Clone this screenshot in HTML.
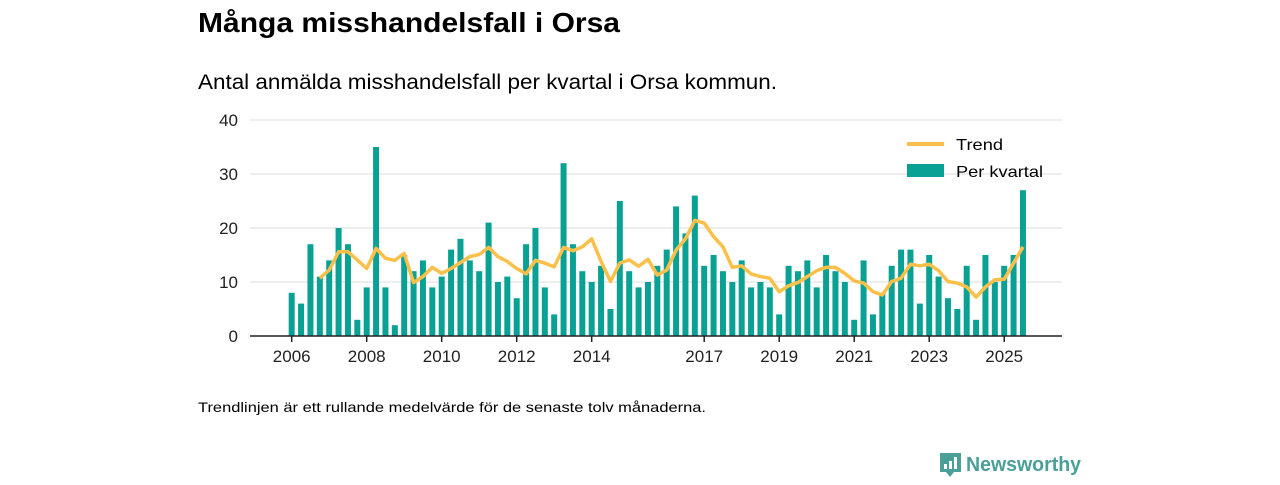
<!DOCTYPE html>
<html><head><meta charset="utf-8"><style>
body{margin:0;background:#fff;width:1280px;height:480px;overflow:hidden;font-family:"Liberation Sans",sans-serif;color:#111}
</style></head><body>
<svg width="1280" height="480">
<text x="198" y="32" font-size="28" font-weight="bold" textLength="422" lengthAdjust="spacingAndGlyphs">Många misshandelsfall i Orsa</text>
<text x="198" y="89" font-size="21" textLength="579" lengthAdjust="spacingAndGlyphs">Antal anmälda misshandelsfall per kvartal i Orsa kommun.</text>
<g id="grid"></g><g id="bars"></g><g id="trend"></g><g id="axis"></g>
<g>
<line x1="907" y1="144" x2="944" y2="144" stroke="#fbc04a" stroke-width="4"/>
<text x="956" y="150" font-size="16" textLength="47" lengthAdjust="spacingAndGlyphs">Trend</text>
<rect x="907" y="164" width="37" height="13" fill="#0aa195"/>
<text x="956" y="177" font-size="16" textLength="87" lengthAdjust="spacingAndGlyphs">Per kvartal</text>
</g>
<text x="198" y="412" font-size="14" textLength="508" lengthAdjust="spacingAndGlyphs">Trendlinjen är ett rullande medelvärde för de senaste tolv månaderna.</text>
<g>
<path d="M940 453h21v19h-7l-4 5-4-5h-6z" fill="#4a9f98"/>
<rect x="944" y="464" width="3" height="5" fill="#fff"/><rect x="949" y="461" width="3" height="8" fill="#fff"/><rect x="954" y="457" width="3" height="12" fill="#fff"/>
<text x="966" y="471" font-size="20" font-weight="bold" fill="#4a9f98" textLength="115" lengthAdjust="spacingAndGlyphs">Newsworthy</text>
</g>
</svg>
<script>
const values=[8,6,17,11,14,20,17,3,9,35,9,2,15,12,14,9,11,16,18,14,12,21,10,11,7,17,20,9,4,32,17,12,10,13,5,25,12,9,10,13,16,24,19,26,13,15,12,10,14,9,10,9,4,13,12,14,9,15,12,10,3,14,4,8,13,16,16,6,15,11,7,5,13,3,15,10,13,15,27];
const trend=[null,null,null,10.7,12.2,15.6,15.6,14.1,12.5,16.2,14.4,14,15.3,9.9,11,12.7,11.6,12.5,13.6,14.7,15.1,16.4,14.7,13.8,12.5,11.5,14,13.5,12.8,16.4,15.8,16.5,18,13.8,10.1,13.5,14.1,12.9,14.2,11.3,12.2,15.9,18,21.4,20.9,18.4,16.5,12.7,13,11.5,11,10.7,8.2,9.3,9.9,11,12.1,12.7,12.7,11.6,10.2,9.8,8.2,7.6,10.1,10.7,13.3,13,13.3,12.1,10.1,9.8,9.1,7.2,9.1,10.4,10.5,13.5,16.5];
const yTicks=[0,10,20,30,40];
const xTicks=[2006,2008,2010,2012,2014,2017,2019,2021,2023,2025];
const startYear=2006;
const NS="http://www.w3.org/2000/svg";
const x=t=>291.7+(t-startYear)*37.5;
const xi=i=>x(startYear+i/4);
const y=v=>336-v*5.4;
function mk(tag,attrs,parent){const e=document.createElementNS(NS,tag);for(const k in attrs)e.setAttribute(k,attrs[k]);document.getElementById(parent).appendChild(e);return e;}
yTicks.forEach(v=>{
 if(v>0){const l=mk('line',{x1:250,x2:1062,y1:y(v),y2:y(v),stroke:'#ddd','stroke-width':1},'grid');
 
 }
 const t=mk('text',{x:238,y:y(v)+6,'font-size':17,'text-anchor':'end',fill:'#222'},'grid');t.textContent=v;
 
 
});
values.forEach((v,i)=>{
 const r=mk('rect',{x:xi(i)-3,y:y(v),width:6,height:v*5.4,fill:'#0aa195'},'bars');
 
 
});
let d='';trend.forEach((v,i)=>{if(v==null)return;d+=(d?'L':'M')+xi(i).toFixed(1)+' '+y(v).toFixed(1);});
const p=mk('path',{d:d,fill:'none',stroke:'#fbc04a','stroke-width':3.5,'stroke-linejoin':'round'},'trend');


const ax=mk('line',{x1:250,x2:1062,y1:336,y2:336,stroke:'#222','stroke-width':1.5},'axis');


xTicks.forEach(t=>{
 const tk=mk('line',{x1:x(t),x2:x(t),y1:336,y2:342,stroke:'#222','stroke-width':1.5},'axis');
 
 
 const tx=mk('text',{x:x(t),y:362,'font-size':17,'text-anchor':'middle',fill:'#222'},'axis');tx.textContent=t;
 
 
});
</script>
</body></html>
